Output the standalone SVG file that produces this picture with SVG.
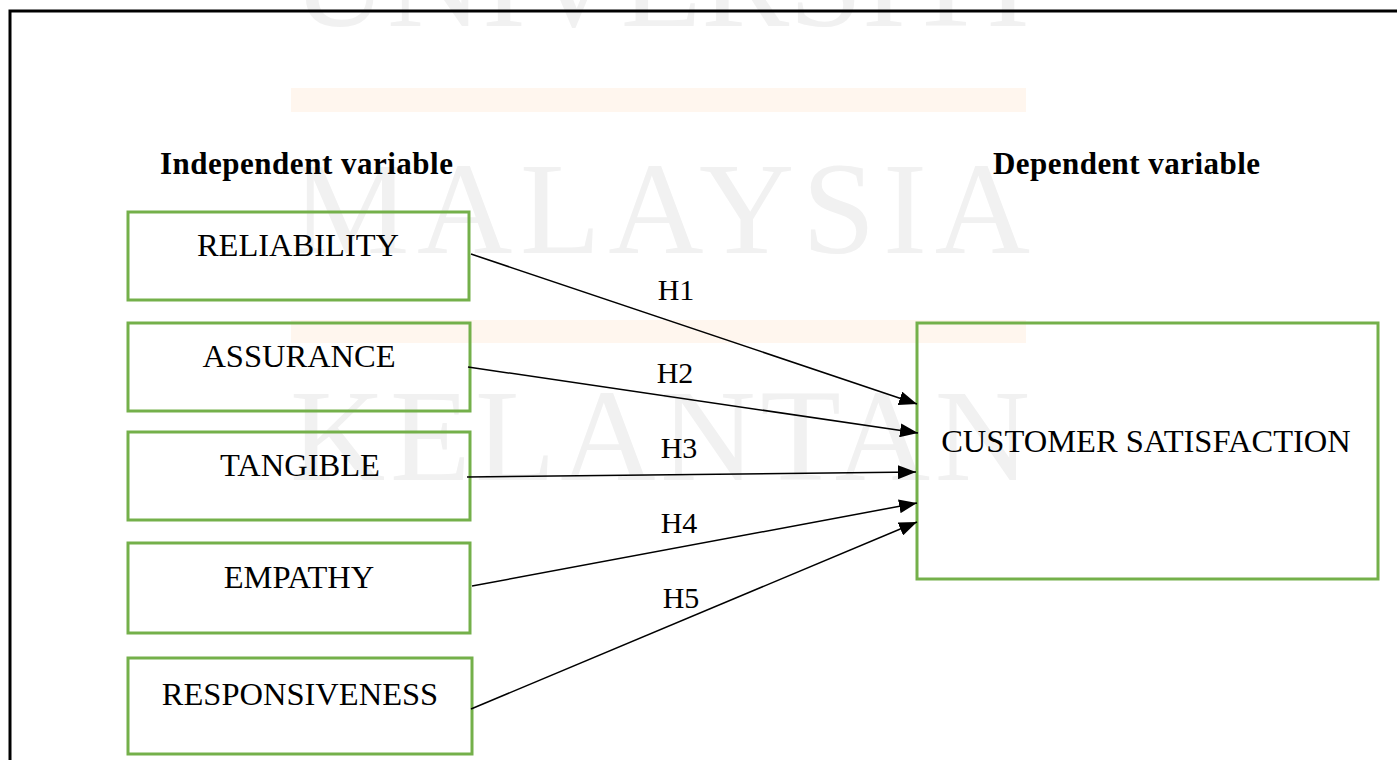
<svg xmlns="http://www.w3.org/2000/svg" width="1397" height="760" viewBox="0 0 1397 760">
<style>
.wm{font-family:"Liberation Serif",serif;font-size:132px;fill:#f1f1f1}
.bar{fill:#fff6ee}
.box{fill:none;stroke:#74b04a;stroke-width:3}
.lbl{font-family:"Liberation Serif",serif;font-size:32.5px;fill:#000;text-anchor:middle}
.hd{font-family:"Liberation Serif",serif;font-size:31px;font-weight:bold;fill:#000}
.hl{font-family:"Liberation Serif",serif;font-size:30px;fill:#000;text-anchor:middle}
.con{stroke:#000;stroke-width:1.5;fill:none}
</style>
<defs>
<marker id="arr" markerWidth="19" markerHeight="14" refX="18" refY="7" orient="auto" markerUnits="userSpaceOnUse">
<path d="M0,0 L18,7 L0,14 Z" fill="#000"/>
</marker>
</defs>
<rect width="1397" height="760" fill="#fff"/>
<g id="watermark">
<text class="wm" x="292" y="26" textLength="738" lengthAdjust="spacing">UNIVERSITI</text>
<rect class="bar" x="291" y="88" width="735" height="24"/>
<text class="wm" x="292" y="253" textLength="738" lengthAdjust="spacing">MALAYSIA</text>
<rect class="bar" x="291" y="320" width="735" height="23"/>
<text class="wm" x="290" y="480" textLength="740" lengthAdjust="spacing">KELANTAN</text>
</g>
<g id="frame">
<path d="M10,760 L10,11 L1397,11" fill="none" stroke="#000" stroke-width="3"/>
</g>
<g id="headers">
<text class="hd" x="160" y="174" textLength="293">Independent variable</text>
<text class="hd" x="993" y="174" textLength="267">Dependent variable</text>
</g>
<g id="reliability">
<rect class="box" x="128" y="212" width="341" height="88"/>
<text class="lbl" x="298" y="256">RELIABILITY</text>
</g>
<g id="assurance">
<rect class="box" x="128" y="323" width="342" height="88"/>
<text class="lbl" x="299" y="367">ASSURANCE</text>
</g>
<g id="tangible">
<rect class="box" x="128" y="432" width="342" height="88"/>
<text class="lbl" x="300" y="476">TANGIBLE</text>
</g>
<g id="empathy">
<rect class="box" x="128" y="543" width="342" height="90"/>
<text class="lbl" x="299" y="588">EMPATHY</text>
</g>
<g id="responsiveness">
<rect class="box" x="128" y="658" width="344" height="96"/>
<text class="lbl" x="300" y="705">RESPONSIVENESS</text>
</g>
<g id="customer_satisfaction">
<rect class="box" x="917" y="323" width="461" height="256"/>
<text class="lbl" x="1146" y="452">CUSTOMER SATISFACTION</text>
</g>
<g id="connectors">
<line class="con" x1="471" y1="254" x2="917" y2="404" marker-end="url(#arr)"/>
<line class="con" x1="468" y1="367" x2="918" y2="433" marker-end="url(#arr)"/>
<line class="con" x1="467" y1="477" x2="916" y2="472" marker-end="url(#arr)"/>
<line class="con" x1="472" y1="586" x2="917" y2="503" marker-end="url(#arr)"/>
<line class="con" x1="471" y1="709" x2="917" y2="522" marker-end="url(#arr)"/>
<text class="hl" x="676" y="300">H1</text>
<text class="hl" x="675" y="383">H2</text>
<text class="hl" x="679" y="458">H3</text>
<text class="hl" x="679" y="533">H4</text>
<text class="hl" x="681" y="608">H5</text>
</g>
</svg>
